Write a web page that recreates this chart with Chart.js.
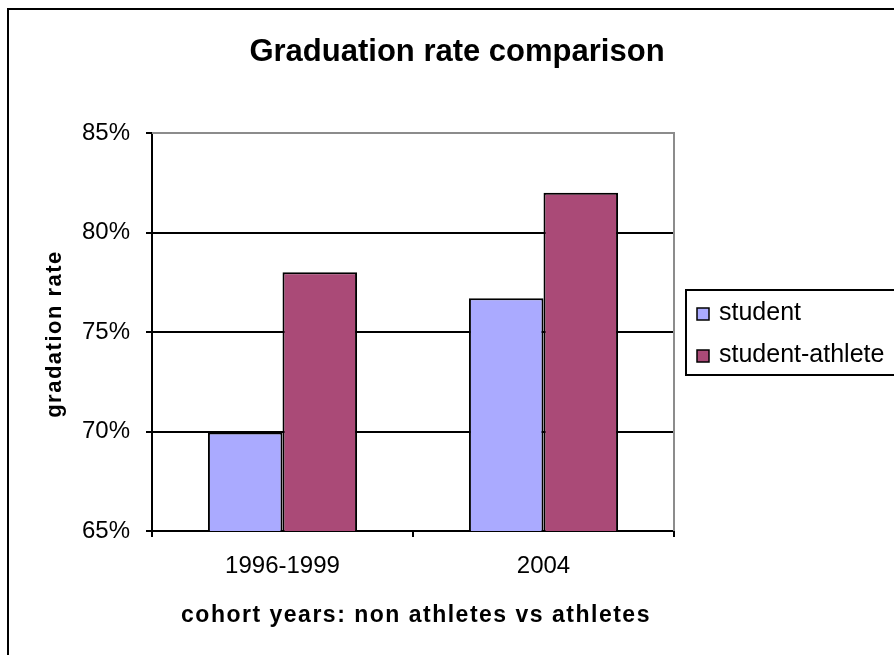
<!DOCTYPE html>
<html>
<head>
<meta charset="utf-8">
<script src="https://cdn.jsdelivr.net/npm/chart.js@4.4.1/dist/chart.umd.min.js"></script>
<style>
  html, body { margin: 0; padding: 0; background: #fff; overflow: hidden; }
  #wrap { width: 894px; height: 655px; position: relative; }
  canvas { display: block; }
</style>
</head>
<body>
<div id="wrap"><canvas id="c" width="894" height="655"></canvas></div>
<script>
// ---- data ----
const cohorts = ['1996-1999', '2004'];
const studentRates = [69.95, 76.7];
const athleteRates = [78.0, 82.0];
const yTickValues = [65, 70, 75, 80, 85];
const seriesNames = ['student', 'student-athlete'];
const seriesColors = ['#AAAAFF', '#AA4A77'];
const chartTitle = 'Graduation rate comparison';
const xAxisTitle = 'cohort years: non athletes vs athletes';
const yAxisTitle = 'gradation rate';

const FONT = '"Liberation Sans", Arial, Helvetica, sans-serif';

// Frame, titles and legend drawn around the plot area
const decorations = {
  id: 'decorations',
  beforeDraw(chart) {
    const ctx = chart.ctx;
    ctx.save();
    ctx.fillStyle = '#ffffff';
    ctx.fillRect(0, 0, chart.width, chart.height);
    ctx.restore();
  },
  afterDraw(chart) {
    const { ctx, chartArea: a } = chart;
    ctx.save();

    // plot area top/right edge
    ctx.strokeStyle = '#8c8c8c';
    ctx.lineWidth = 2;
    ctx.beginPath();
    ctx.moveTo(a.left, a.top);
    ctx.lineTo(a.right, a.top);
    ctx.lineTo(a.right, a.bottom);
    ctx.stroke();

    // outer chart frame
    ctx.strokeStyle = '#000';
    ctx.lineWidth = 2;
    ctx.strokeRect(8, 9, 900, 660);

    // main title
    ctx.fillStyle = '#000';
    ctx.font = 'bold 31px ' + FONT;
    ctx.textAlign = 'center';
    ctx.textBaseline = 'middle';
    ctx.fillText(chartTitle, 457, 52);

    // axis titles
    ctx.font = 'bold 23px ' + FONT;
    ctx.letterSpacing = '1.5px';
    ctx.textBaseline = 'alphabetic';
    ctx.fillText(xAxisTitle, 416, 622);

    ctx.save();
    ctx.font = 'bold 22px ' + FONT;
    ctx.translate(61, (a.top + a.bottom) / 2 + 2);
    ctx.rotate(-Math.PI / 2);
    ctx.letterSpacing = '1.5px';
    ctx.fillText(yAxisTitle, 0, 0);
    ctx.restore();
    ctx.letterSpacing = '0px';

    // legend
    ctx.strokeStyle = '#000';
    ctx.lineWidth = 2;
    ctx.strokeRect(686, 290, 230, 85);
    ctx.font = '25px ' + FONT;
    ctx.textAlign = 'left';
    ctx.textBaseline = 'alphabetic';
    chart.data.datasets.forEach((ds, i) => {
      const y = 320 + i * 42;
      ctx.fillStyle = ds.backgroundColor;
      ctx.fillRect(697, y - 12, 12, 12);
      ctx.lineWidth = 1.5;
      ctx.strokeStyle = '#000';
      ctx.strokeRect(697, y - 12, 12, 12);
      ctx.fillStyle = '#000';
      ctx.fillText(ds.label, 719, y);
    });

    ctx.restore();
  }
};

new Chart(document.getElementById('c'), {
  type: 'bar',
  data: {
    labels: cohorts,
    datasets: [
      {
        label: seriesNames[0],
        data: studentRates,
        backgroundColor: seriesColors[0],
        borderColor: '#000',
        borderWidth: 2,
        borderSkipped: 'start'
      },
      {
        label: seriesNames[1],
        data: athleteRates,
        backgroundColor: seriesColors[1],
        borderColor: '#000',
        borderWidth: 2,
        borderSkipped: 'start'
      }
    ]
  },
  options: {
    responsive: false,
    animation: false,
    devicePixelRatio: 1,
    layout: { padding: { left: 0, top: 133, right: 220, bottom: 64 } },
    datasets: { bar: { barPercentage: 1, categoryPercentage: 2 / 3.5 } },
    plugins: {
      legend: { display: false },
      title: { display: false },
      tooltip: { enabled: false }
    },
    scales: {
      x: {
        afterFit(scale) { scale.height = 60; },
        grid: {
          display: true,
          offset: true,
          drawOnChartArea: false,
          drawTicks: true,
          tickLength: 6,
          color: '#000',
          lineWidth: 2
        },
        border: { display: true, color: '#000', width: 2 },
        ticks: {
          color: '#000',
          padding: 15,
          font: { family: FONT, size: 24 }
        }
      },
      y: {
        min: 65,
        max: 85,
        afterFit(scale) { scale.width = 152; },
        afterBuildTicks(scale) { scale.ticks = yTickValues.map(v => ({ value: v })); },
        grid: {
          color: c => (c.tick && c.tick.value === 85 ? '#8c8c8c' : '#000'),
          tickColor: '#000',
          lineWidth: 2,
          drawTicks: true,
          tickLength: 6
        },
        border: { display: true, color: '#000', width: 2 },
        ticks: {
          color: '#000',
          padding: 16,
          font: { family: FONT, size: 24 },
          callback: v => v + '%'
        }
      }
    }
  },
  plugins: [decorations]
});
</script>
</body>
</html>
